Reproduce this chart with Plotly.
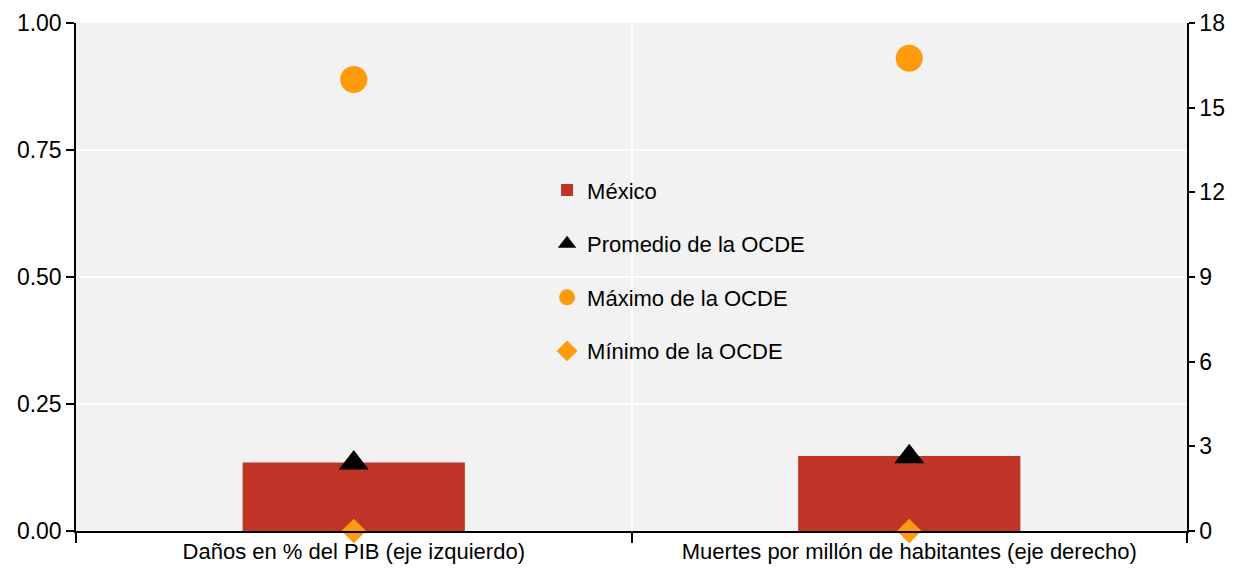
import plotly.graph_objects as go

categories = ["Daños en % del PIB (eje izquierdo)",
              "Muertes por millón de habitantes (eje derecho)"]
mexico = [0.135, 2.66]
promedio = [0.134, 2.63]
maximo = [0.889, 16.75]
minimo = [0.0, 0.0]

left_ticks = [0, 0.25, 0.5, 0.75, 1.0]
right_ticks = [0, 3, 6, 9, 12, 15, 18]

FONT = "Liberation Sans, Arial, sans-serif"
RED = "#BF3426"
ORANGE = "#FF9A0C"

fig = go.Figure()

series = [
    ("México", mexico, "bar", None),
    ("Promedio de la OCDE", promedio, "triangle-up", "black"),
    ("Máximo de la OCDE", maximo, "circle", ORANGE),
    ("Mínimo de la OCDE", minimo, "diamond", ORANGE),
]
sizes = {"triangle-up": 26, "circle": 27, "diamond": 19}

for i, axis in enumerate(["y", "y2"]):
    for name, vals, sym, col in series:
        if sym == "bar":
            fig.add_trace(go.Bar(
                x=[categories[i]], y=[vals[i]], name=name, yaxis=axis,
                marker=dict(color=RED, line=dict(width=0)), width=0.4,
                legendgroup=name, showlegend=(i == 0),
            ))
        else:
            fig.add_trace(go.Scatter(
                x=[categories[i]], y=[vals[i]], name=name, yaxis=axis,
                mode="markers", cliponaxis=False,
                marker=dict(symbol=sym, color=col, size=sizes[sym],
                            line=dict(width=0)),
                legendgroup=name, showlegend=(i == 0),
            ))

fig.update_layout(
    width=1247, height=569,
    margin=dict(l=76, r=60, t=23, b=38, autoexpand=False),
    paper_bgcolor="white",
    plot_bgcolor="#F2F2F2",
    barmode="overlay",
    font=dict(family=FONT, size=22, color="black"),
    legend=dict(x=0.424, y=0.712, xanchor="left", yanchor="top",
                bgcolor="rgba(0,0,0,0)", tracegroupgap=22,
                font=dict(size=22)),
    xaxis=dict(
        type="category", categoryorder="array", categoryarray=categories,
        range=[-0.5, 1.5], tickson="boundaries", automargin=False,
        ticks="outside", ticklen=10, tickcolor="black", tickwidth=1.5,
        showline=True, linecolor="black", linewidth=1.5,
        showgrid=True, gridcolor="white", gridwidth=2,
        tickfont=dict(size=22),
    ),
    yaxis=dict(
        range=[0, 1], tickvals=left_ticks, tickformat=".2f", automargin=False,
        ticks="outside", ticklen=8, tickcolor="black", tickwidth=1.5,
        showline=True, linecolor="black", linewidth=1.5,
        showgrid=True, gridcolor="white", gridwidth=2,
        zeroline=False, tickfont=dict(size=23),
    ),
    yaxis2=dict(
        range=[0, 18], tickvals=right_ticks, automargin=False,
        overlaying="y", side="right",
        ticks="outside", ticklen=6, tickcolor="black", tickwidth=1.5,
        showline=True, linecolor="black", linewidth=1.5,
        showgrid=False, zeroline=False, tickfont=dict(size=23),
    ),
)

# the browser's default 8px body margin would push the figure off the window
fig.write_html("out.html",
               config={"displayModeBar": False},
               post_script="document.body.style.margin='0';"
                           "document.body.style.overflow='hidden';")
